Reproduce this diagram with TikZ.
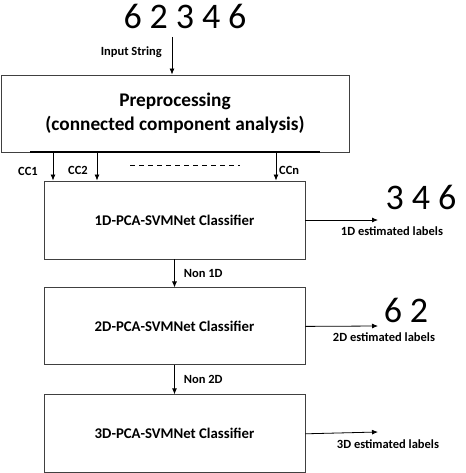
\documentclass[tikz,border=0pt]{standalone}
\usepackage{fontspec}
\setmainfont{Carlito}
\usetikzlibrary{arrows.meta,positioning}

\tikzset{
   box/.style={draw=black!75, line width=0.9pt, rectangle, inner sep=0pt},
   clf/.style={box, minimum width=261pt, font=\bfseries\fontsize{14.8}{16}\selectfont},
   flow/.style={-{Latex[length=6pt,width=5pt]}, line width=0.8pt},
   lbl/.style={font=\bfseries\fontsize{12.5}{14}\selectfont, inner sep=1pt},
   hand/.style={font=\fontsize{36}{36}\selectfont\addfontfeatures{LetterSpace=22}, inner sep=0pt},
}

\begin{document}
\begin{tikzpicture}[x=1pt, y=-1pt]
   \useasboundingbox (0,0) rectangle (465,473);
   % preprocessing stage
   \node[box, minimum width=348pt, minimum height=77pt, align=center,
         font=\bfseries\fontsize{19.3}{24}\selectfont] (pre) at (175,113.5)
         {Preprocessing\\(connected component analysis)};
   \draw[line width=2pt] (30,152) -- (320,152);
   \node[hand] (in) at (185,16) {62346};
   \coordinate (inend) at (172,37);
   \draw[flow] (inend) -- (inend |- pre.north);
   \node[lbl, anchor=east] (instr) at (163,52) {Input String};
   % classifiers
   \node[clf, minimum height=78pt] (c1) at (174.5,220) {1D-PCA-SVMNet Classifier};
   \node[clf, minimum height=77pt, below=28pt of c1] (c2) {2D-PCA-SVMNet Classifier};
   \node[clf, minimum height=78pt, below=29pt of c2] (c3) {3D-PCA-SVMNet Classifier};
   % connected components
   \coordinate (cc1) at (53,152);
   \coordinate (cc2) at (97,152);
   \coordinate (ccn) at (276,152);
   \draw[flow] (cc1) -- (cc1 |- c1.north);
   \draw[flow] (cc2) -- (cc2 |- c1.north);
   \draw[flow] (ccn) -- (ccn |- c1.north);
   \node[lbl] (l1) at (28,171) {CC1};
   \node[lbl] (l2) at (78,170) {CC2};
   \node[lbl, anchor=west] (ln) at (278,170) {CCn};
   \coordinate (dsa) at (130,165);
   \coordinate (dsb) at (240,165);
   \draw[line width=0.7pt, dash pattern=on 5pt off 4pt] (dsa) -- (dsb);
   % cascade
   \draw[flow] (c1.south) -- (c2.north) node[lbl, midway, right=8pt] (n1) {Non 1D};
   \draw[flow] (c2.south) -- (c3.north) node[lbl, midway, right=8pt] (n2) {Non 2D};
   % outputs
   \coordinate (o1) at (378,220);
   \coordinate (o2) at (378,326);
   \coordinate (o3) at (378,432);
   \draw[flow] (c1.east) -- (o1);
   \draw[flow] (c2.east) -- (o2);
   \draw[flow] (c3.east) -- (o3);
   \node[lbl] (e1) at (392,231) {1D estimated labels};
   \node[lbl] (e2) at (384,337) {2D estimated labels};
   \node[lbl] (e3) at (388,444) {3D estimated labels};
   \node[hand] (h1) at (421,197) {346};
   \node[hand] (h2) at (406,310) {62};
\end{tikzpicture}
\end{document}
